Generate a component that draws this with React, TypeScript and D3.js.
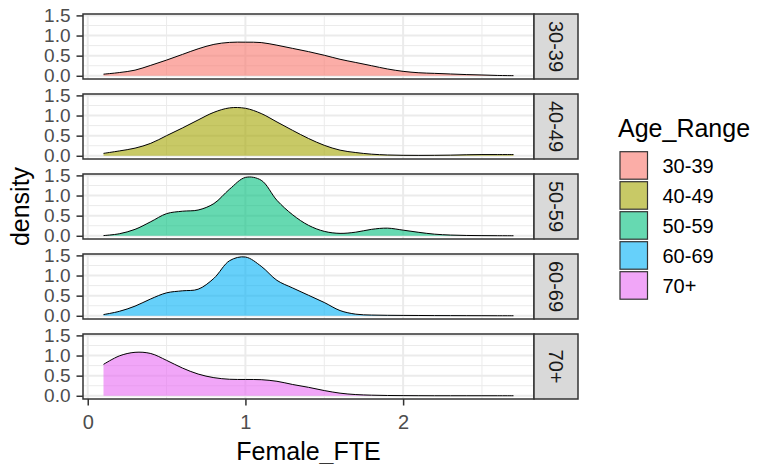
import { useEffect, useRef } from 'react';
import * as d3 from 'd3';

// Facets / groups
const ageRanges = ['30-39', '40-49', '50-59', '60-69', '70+'];
const fillColors = ['#F8766D', '#A3A500', '#00BF7D', '#00B0F6', '#E76BF3'];

// Female_FTE evaluation points (density estimate)
const fteGrid = [0.1, 0.2, 0.3, 0.4, 0.5, 0.6, 0.7, 0.8, 0.9, 1.0, 1.1, 1.2, 1.3, 1.4,
  1.5, 1.6, 1.7, 1.8, 1.9, 2.0, 2.1, 2.2, 2.3, 2.4, 2.5, 2.6, 2.7];

const density3039 = [0.04, 0.08, 0.14, 0.26, 0.39, 0.53, 0.67, 0.78, 0.83, 0.835, 0.825, 0.76, 0.68, 0.6,
  0.51, 0.41, 0.33, 0.25, 0.17, 0.11, 0.075, 0.06, 0.045, 0.03, 0.02, 0.008, 0.003];
const density4049 = [0.06, 0.12, 0.19, 0.31, 0.5, 0.69, 0.89, 1.08, 1.19, 1.18, 1.05, 0.84, 0.63, 0.43,
  0.26, 0.14, 0.08, 0.04, 0.02, 0.012, 0.01, 0.012, 0.016, 0.025, 0.03, 0.03, 0.03];
const density5059 = [0.005, 0.05, 0.16, 0.35, 0.55, 0.61, 0.64, 0.8, 1.16, 1.45, 1.38, 0.88, 0.52, 0.26,
  0.11, 0.06, 0.09, 0.16, 0.19, 0.14, 0.085, 0.04, 0.018, 0.008, 0.004, 0.002, 0.001];
const density6069 = [0.03, 0.11, 0.24, 0.42, 0.57, 0.62, 0.66, 0.93, 1.37, 1.46, 1.23, 0.88, 0.69, 0.51,
  0.33, 0.13, 0.04, 0.018, 0.012, 0.009, 0.007, 0.005, 0.004, 0.003, 0.002, 0.001, 0.001];
const density70 = [0.78, 0.99, 1.08, 1.05, 0.88, 0.69, 0.54, 0.45, 0.41, 0.405, 0.4, 0.36, 0.28, 0.21,
  0.13, 0.065, 0.03, 0.015, 0.007, 0.004, 0.002, 0.001, 0.001, 0.001, 0.001, 0.001, 0.001];

const densities = [density3039, density4049, density5059, density6069, density70];

const yTicks = [0, 0.5, 1, 1.5];
const yMinor = [0.25, 0.75, 1.25];
const xTicks = [0, 1, 2];
const xMinor = [0.5, 1.5, 2.5];

const FONT = '"Liberation Sans", Arial, sans-serif';

const App = () => {
  const canvas = useRef<SVGSVGElement>(null);

  useEffect(() => {
    const svg = d3.select(canvas.current);
    svg.selectAll('*').remove();

    // Layout
    const width = 758, height = 464;
    const panelLeft = 83, panelRight = 534, stripW = 44;
    const panelTop = 14, panelH = 65, panelGap = 15;

    const x = d3.scaleLinear().domain([-0.03, 2.83]).range([panelLeft, panelRight]);

    svg.attr('width', width).attr('height', height).attr('viewBox', [0, 0, width, height]);
    svg.append('rect').attr('width', width).attr('height', height).attr('fill', '#fff');

    ageRanges.forEach((age, i) => {
      const top = panelTop + i * (panelH + panelGap);
      const y = d3.scaleLinear().domain([-0.08, 1.535]).range([top + panelH, top]);
      const g = svg.append('g');

      // grid
      g.selectAll('.minY').data(yMinor).join('line')
        .attr('x1', panelLeft).attr('x2', panelRight)
        .attr('y1', d => y(d)).attr('y2', d => y(d))
        .attr('stroke', '#EBEBEB').attr('stroke-width', 1);
      g.selectAll('.minX').data(xMinor).join('line')
        .attr('y1', top).attr('y2', top + panelH)
        .attr('x1', d => x(d)).attr('x2', d => x(d))
        .attr('stroke', '#EBEBEB').attr('stroke-width', 1);
      g.selectAll('.majY').data(yTicks).join('line')
        .attr('x1', panelLeft).attr('x2', panelRight)
        .attr('y1', d => y(d)).attr('y2', d => y(d))
        .attr('stroke', '#EBEBEB').attr('stroke-width', 2);
      g.selectAll('.majX').data(xTicks).join('line')
        .attr('y1', top).attr('y2', top + panelH)
        .attr('x1', d => x(d)).attr('x2', d => x(d))
        .attr('stroke', '#EBEBEB').attr('stroke-width', 2);

      // density
      const pts = fteGrid.map((f, j) => [f, densities[i][j]] as [number, number]);
      const area = d3.area<[number, number]>()
        .x(d => x(d[0])).y0(y(0)).y1(d => Math.min(y(d[1]), y(0)))
        .curve(d3.curveCatmullRom.alpha(0.5));
      const line = d3.line<[number, number]>()
        .x(d => x(d[0])).y(d => y(d[1]))
        .curve(d3.curveCatmullRom.alpha(0.5));
      g.append('path').attr('d', area(pts)).attr('fill', fillColors[i]).attr('fill-opacity', 0.6);
      g.append('path').attr('d', line(pts)).attr('fill', 'none').attr('stroke', '#000').attr('stroke-width', 1);

      // panel border
      g.append('rect').attr('x', panelLeft).attr('y', top)
        .attr('width', panelRight - panelLeft).attr('height', panelH)
        .attr('fill', 'none').attr('stroke', '#333').attr('stroke-width', 1.5);

      // strip
      g.append('rect').attr('x', panelRight).attr('y', top)
        .attr('width', stripW).attr('height', panelH)
        .attr('fill', '#D9D9D9').attr('stroke', '#333').attr('stroke-width', 1.5);
      g.append('text')
        .attr('transform', `translate(${panelRight + stripW / 2},${top + panelH / 2}) rotate(90)`)
        .attr('text-anchor', 'middle').attr('dominant-baseline', 'central')
        .attr('font-family', FONT).attr('font-size', 20).attr('fill', '#1A1A1A')
        .text(age);

      // y axis
      const ya = g.append('g').attr('transform', `translate(${panelLeft},0)`)
        .call(d3.axisLeft(y).tickValues(yTicks).tickFormat(d3.format('.1f')).tickSize(6.5).tickPadding(6));
      ya.select('.domain').remove();
      ya.selectAll('line').attr('stroke', '#333').attr('stroke-width', 1.5);
      ya.selectAll('text').attr('font-family', FONT).attr('font-size', 19).attr('fill', '#4D4D4D');

      if (i === ageRanges.length - 1) {
        const xa = g.append('g').attr('transform', `translate(0,${top + panelH})`)
          .call(d3.axisBottom(x).tickValues(xTicks).tickFormat(d3.format('d')).tickSize(6.5).tickPadding(9));
        xa.select('.domain').remove();
        xa.selectAll('line').attr('stroke', '#333').attr('stroke-width', 1.5);
        xa.selectAll('text').attr('font-family', FONT).attr('font-size', 20).attr('fill', '#4D4D4D');
      }
    });

    const bottom = panelTop + 4 * (panelH + panelGap) + panelH;

    // axis titles
    svg.append('text')
      .attr('x', (panelLeft + panelRight) / 2).attr('y', 460)
      .attr('text-anchor', 'middle').attr('font-family', FONT).attr('font-size', 25).attr('fill', '#000')
      .text('Female_FTE');
    svg.append('text')
      .attr('transform', `translate(28.5,${(panelTop + bottom) / 2}) rotate(-90)`)
      .attr('text-anchor', 'middle').attr('font-family', FONT).attr('font-size', 25).attr('fill', '#000')
      .text('density');

    // legend
    const lg = svg.append('g').attr('transform', 'translate(618,0)');
    lg.append('text').attr('x', 0).attr('y', 136.5)
      .attr('font-family', FONT).attr('font-size', 25).attr('fill', '#000')
      .text('Age_Range');
    ageRanges.forEach((age, i) => {
      const ky = 151.7 + i * 30;
      lg.append('rect').attr('x', 2).attr('y', ky).attr('width', 27.5).attr('height', 27.5)
        .attr('fill', fillColors[i]).attr('fill-opacity', 0.6)
        .attr('stroke', '#333').attr('stroke-width', 1.2);
      lg.append('text').attr('x', 44.5).attr('y', ky + 21.5)
        .attr('font-family', FONT).attr('font-size', 20).attr('fill', '#000')
        .text(age);
    });
  }, []);

  return (
    <svg ref={canvas} style={{ position: 'absolute', left: 0, top: 0, display: 'block' }}></svg>
  );
};

export default App;
